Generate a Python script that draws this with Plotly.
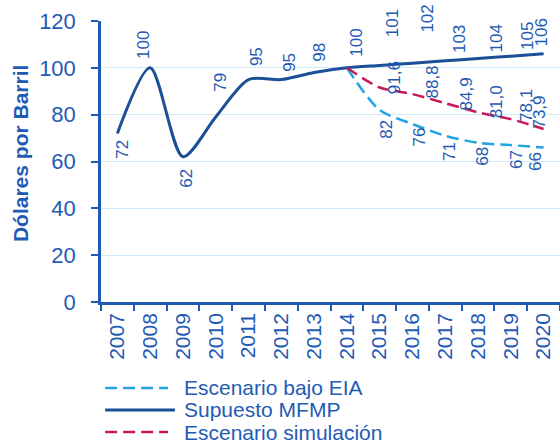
import plotly.graph_objects as go

years = ["2007", "2008", "2009", "2010", "2011", "2012", "2013",
         "2014", "2015", "2016", "2017", "2018", "2019", "2020"]
mfmp = [72, 100, 62, 79, 95, 95, 98, 100, 101, 102, 103, 104, 105, 106]
eia_years = ["2014", "2015", "2016", "2017", "2018", "2019", "2020"]
eia = [100, 82, 76, 71, 68, 67, 66]
sim_years = ["2014", "2015", "2016", "2017", "2018", "2019", "2020"]
sim = [100, 91.6, 88.8, 84.9, 81.0, 78.1, 73.9]

# label offsets in pixels (dx, dy up)
mfmp_off = [(5, -16), (-6, 23), (4, -21), (4, 35), (8, 23), (8, 17), (5, 20),
            (10, 25), (13, 42), (15, 45), (15, 22), (18, 20), (16, 20), (-2, 21)]
eia_off = [None, (7, -19), (7, -13), (4, -16), (5, -14), (5, -14), (-8, -14)]
sim_off = [None, (15, 10), (20, 12), (21, 9), (18, 10), (15, 14), (-4, 17)]

TXT = "#1f5bb5"
C_MFMP = "#1b4f97"
C_EIA = "#1ea5e2"
C_SIM = "#c8185a"
FONT = "Liberation Sans, Arial, sans-serif"
DASH = "12px,6px"

fig = go.Figure()
fig.add_trace(go.Scatter(x=eia_years, y=eia, mode="lines", name="Escenario bajo EIA",
                         line=dict(color=C_EIA, width=2.5, dash=DASH, shape="spline", smoothing=0.8)))
fig.add_trace(go.Scatter(x=years, y=mfmp, mode="lines", name="Supuesto MFMP",
                         line=dict(color=C_MFMP, width=3, shape="spline", smoothing=0.8)))
fig.add_trace(go.Scatter(x=sim_years, y=sim, mode="lines", name="Escenario simulación",
                         line=dict(color=C_SIM, width=2.5, dash=DASH, shape="spline", smoothing=0.8)))

anns = []
def add_labels(xs, ys, offs, fmt):
    for x, y, o in zip(xs, ys, offs):
        if o is None:
            continue
        anns.append(dict(x=years.index(x), y=y, xref="x", yref="y", text=fmt(y), showarrow=False,
                         textangle=-90, xshift=o[0], yshift=o[1],
                         font=dict(family=FONT, size=17, color=TXT)))

add_labels(years, mfmp, mfmp_off, lambda v: f"{v:d}")
add_labels(eia_years, eia, eia_off, lambda v: f"{v:d}")
add_labels(sim_years, sim, sim_off, lambda v: f"{v:.1f}".replace(".", ","))

# axis title
anns.append(dict(x=-0.1765, y=0.53, xref="paper", yref="paper", text="<b>Dólares por Barril</b>",
                 showarrow=False, textangle=-90, xanchor="center", yanchor="middle",
                 font=dict(family=FONT, size=21, color=TXT)))

# manual legend
leg = [("Escenario bajo EIA", C_EIA, "dash", -0.306, 0.146),
       ("Supuesto MFMP", C_MFMP, "solid", -0.384, 0.161),
       ("Escenario simulación", C_SIM, "dash", -0.463, 0.146)]
shapes = []
for name, col, dash, yy, xe in leg:
    shapes.append(dict(type="line", xref="paper", yref="paper", x0=0.009, x1=xe, y0=yy, y1=yy,
                       line=dict(color=col, width=3 if dash == "solid" else 2.5,
                                 dash="solid" if dash == "solid" else DASH)))
    anns.append(dict(x=0.177, y=yy, xref="paper", yref="paper", text=name, showarrow=False,
                     xanchor="left", yanchor="middle", font=dict(family=FONT, size=21, color=TXT)))

fig.update_layout(
    width=560, height=443, margin=dict(l=101, r=0, t=21, b=141),
    paper_bgcolor="white", plot_bgcolor="white", showlegend=False,
    font=dict(family=FONT, color=TXT),
    annotations=anns, shapes=shapes,
    xaxis=dict(type="category", categoryorder="array", categoryarray=years,
               range=[-0.5, 13.5], tickangle=-90, tickson="boundaries", ticks="outside",
               ticklen=6, tickwidth=2, tickcolor=TXT, showline=True, linecolor=TXT, linewidth=2.5,
               showgrid=False, tickfont=dict(family=FONT, size=21, color=TXT)),
    yaxis=dict(range=[0, 120], dtick=20, ticks="outside", ticklen=7, tickwidth=2, tickcolor=TXT,
               showline=True, linecolor=TXT, linewidth=2.5, showgrid=True, gridcolor="#cfeaf8",
               gridwidth=1, zeroline=False, ticklabelstandoff=11,
               tickfont=dict(family=FONT, size=22, color=TXT)),
)
fig.write_html("out.html")
